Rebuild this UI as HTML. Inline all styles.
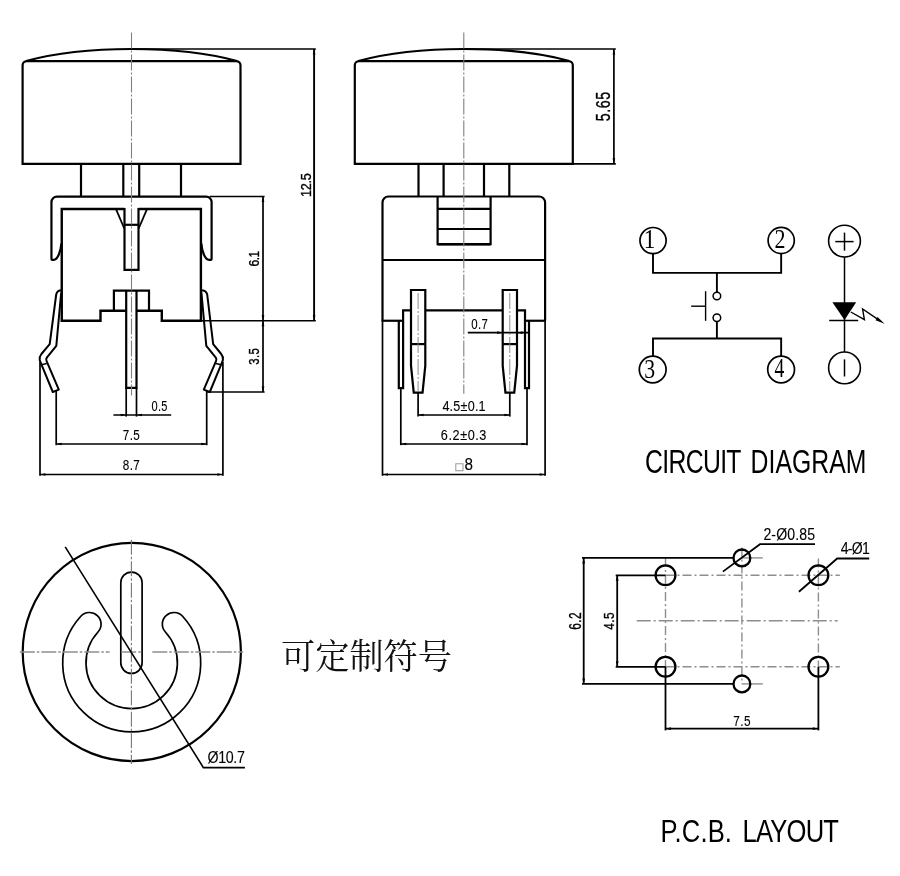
<!DOCTYPE html>
<html lang="zh">
<head>
<meta charset="utf-8">
<title>Tact switch drawing</title>
<style>
html,body{margin:0;padding:0;background:#fff;}
body{width:900px;height:876px;overflow:hidden;font-family:"Liberation Sans","Noto Sans CJK SC",sans-serif;}
svg{display:block;will-change:transform;}
</style>
</head>
<body>
<svg width="900" height="876" viewBox="0 0 900 876" stroke-linecap="butt" stroke-linejoin="miter">
<rect x="0" y="0" width="900" height="876" fill="#fff"/>
<g id="front-view">
<path d="M22.6,163.8 L22.6,65.3 A4.2 4.2 0 0 1 26.8,61.1 L236.3,61.1 A4.2 4.2 0 0 1 240.5,65.3 L240.5,163.8 Z" stroke="#000" stroke-width="2.2" fill="none" />
<path d="M26.05,61.0 A150 41.5 0 0 1 237.05,61.0" stroke="#000" stroke-width="2.2" fill="none" />
<line x1="81.00" y1="163.80" x2="81.00" y2="196.50" stroke="#000" stroke-width="2.2" />
<line x1="123.30" y1="163.80" x2="123.30" y2="196.50" stroke="#000" stroke-width="2.2" />
<line x1="139.20" y1="163.80" x2="139.20" y2="196.50" stroke="#000" stroke-width="2.2" />
<line x1="181.00" y1="163.80" x2="181.00" y2="196.50" stroke="#000" stroke-width="2.2" />
<path d="M61.35,243.5 C60.85,250.5 58,259.80 53.6,259.80 L52.25,259.80 Q51.45,259.80 51.45,259.0 L51.45,202.1 A5.5 5.5 0 0 1 56.95,196.6 L206.1,196.6 A5.5 5.5 0 0 1 211.6,202.1 L211.6,259.0 Q211.6,259.80 210.80,259.80 L209.1,259.80 C204.7,259.80 201.85,250.5 201.35,243.5" stroke="#000" stroke-width="2.2" fill="none" />
<path d="M124.5,208.95 L61.75,208.95 L61.75,320.75 L100.5,320.75 L100.5,310.8 L126.2,310.8" stroke="#000" stroke-width="2.4" fill="none" />
<path d="M138.5,208.95 L200.9,208.95 L200.9,320.75 L161.8,320.75 L161.8,310.8 L136.5,310.8" stroke="#000" stroke-width="2.4" fill="none" />
<path d="M124.5,207.95 L124.5,269.9 L138.5,269.9 L138.5,207.95" stroke="#000" stroke-width="2.2" fill="none" />
<line x1="124.50" y1="224.80" x2="138.50" y2="224.80" stroke="#000" stroke-width="2.2" />
<line x1="115.90" y1="208.95" x2="124.30" y2="228.50" stroke="#000" stroke-width="1.8" />
<line x1="147.10" y1="208.95" x2="138.70" y2="228.50" stroke="#000" stroke-width="1.8" />
<path d="M113.9,310.8 L113.9,290.6 L149,290.6 L149,310.8" stroke="#000" stroke-width="2.2" fill="none" />
<path d="M126.2,290.6 L126.2,387.9 L136.5,387.9 L136.5,290.6" stroke="#000" stroke-width="2.2" fill="none" />
<path d="M61.90,290.20 Q57.00,290.20 56.20,294.50 L49.70,344.20 L41.40,354.00 Q39.00,357.00 39.70,360.20 L41.60,364.80 L52.80,392.00 L58.80,389.60 L46.60,361.20 Q45.60,359.40 46.80,357.60 L56.30,345.80 L61.20,292.50" stroke="#000" stroke-width="2.0" fill="none" stroke-linejoin="round"/>
<line x1="41.60" y1="364.80" x2="46.60" y2="363.40" stroke="#000" stroke-width="1.6" />
<path d="M200.70,290.20 Q206.40,290.20 207.20,294.50 L213.17,344.20 L221.20,354.00 Q223.60,357.00 222.90,360.20 L221.00,364.80 L209.80,392.00 L203.80,389.60 L216.00,361.20 Q217.00,359.40 215.80,357.60 L206.30,345.80 L201.40,292.50" stroke="#000" stroke-width="2.0" fill="none" stroke-linejoin="round"/>
<line x1="221.00" y1="364.80" x2="216.00" y2="363.40" stroke="#000" stroke-width="1.6" />
</g>
<g id="front-dims">
<line x1="131.50" y1="49.00" x2="315.80" y2="49.00" stroke="#000" stroke-width="1.7" />
<line x1="314.10" y1="49.00" x2="314.10" y2="320.75" stroke="#000" stroke-width="1.9" />
<polygon points="314.10,49.00 315.45,54.50 312.75,54.50" fill="#000"/>
<polygon points="314.10,320.75 312.75,315.25 315.45,315.25" fill="#000"/>
<line x1="200.90" y1="320.75" x2="315.80" y2="320.75" stroke="#000" stroke-width="1.7" />
<line x1="209.60" y1="196.50" x2="264.60" y2="196.50" stroke="#000" stroke-width="1.7" />
<line x1="263.00" y1="196.50" x2="263.00" y2="392.00" stroke="#000" stroke-width="1.7" />
<polygon points="263.00,196.50 264.35,202.00 261.65,202.00" fill="#000"/>
<polygon points="263.00,320.75 261.65,315.25 264.35,315.25" fill="#000"/>
<polygon points="263.00,320.75 264.35,326.25 261.65,326.25" fill="#000"/>
<polygon points="263.00,392.00 261.65,386.50 264.35,386.50" fill="#000"/>
<line x1="206.00" y1="392.00" x2="264.60" y2="392.00" stroke="#000" stroke-width="1.7" />
<line x1="126.20" y1="387.90" x2="126.20" y2="416.60" stroke="#000" stroke-width="1.7" />
<line x1="136.50" y1="387.90" x2="136.50" y2="416.60" stroke="#000" stroke-width="1.7" />
<line x1="113.40" y1="415.00" x2="171.20" y2="415.00" stroke="#000" stroke-width="1.7" />
<polygon points="126.20,415.00 120.70,416.35 120.70,413.65" fill="#000"/>
<polygon points="136.50,415.00 142.00,413.65 142.00,416.35" fill="#000"/>
<line x1="56.20" y1="391.00" x2="56.20" y2="445.20" stroke="#000" stroke-width="1.7" />
<line x1="206.70" y1="391.00" x2="206.70" y2="445.20" stroke="#000" stroke-width="1.7" />
<line x1="56.20" y1="444.00" x2="206.70" y2="444.00" stroke="#000" stroke-width="1.7" />
<polygon points="56.20,444.00 61.70,442.65 61.70,445.35" fill="#000"/>
<polygon points="206.70,444.00 201.20,445.35 201.20,442.65" fill="#000"/>
<line x1="40.00" y1="362.00" x2="40.00" y2="475.80" stroke="#000" stroke-width="1.7" />
<line x1="222.90" y1="362.00" x2="222.90" y2="475.80" stroke="#000" stroke-width="1.7" />
<line x1="40.00" y1="474.50" x2="222.90" y2="474.50" stroke="#000" stroke-width="1.7" />
<polygon points="40.00,474.50 45.50,473.15 45.50,475.85" fill="#000"/>
<polygon points="222.90,474.50 217.40,475.85 217.40,473.15" fill="#000"/>
<line x1="131.50" y1="32.50" x2="131.50" y2="395.60" stroke="#808080" stroke-width="1.1" stroke-dasharray="16 2 2 2"/>
</g>
<g id="front-text">
<text x="0" y="0" font-family='"Liberation Sans", sans-serif' font-size="15.4" text-anchor="middle" fill="#000" stroke="#000" stroke-width="0.35" textLength="29.23" lengthAdjust="spacing" transform="translate(310.60 185.10) rotate(-90) scale(0.821 1)" >12.5</text>
<text x="0" y="0" font-family='"Liberation Sans", sans-serif' font-size="15.3" text-anchor="middle" fill="#000" stroke="#000" stroke-width="0.35" textLength="20.15" lengthAdjust="spacing" transform="translate(259.40 258.70) rotate(-90) scale(0.784 1)" >6.1</text>
<text x="0" y="0" font-family='"Liberation Sans", sans-serif' font-size="15.3" text-anchor="middle" fill="#000" stroke="#000" stroke-width="0.35" textLength="22.42" lengthAdjust="spacing" transform="translate(259.40 356.40) rotate(-90) scale(0.745 1)" >3.5</text>
<text x="0" y="0" font-family='"Liberation Sans", sans-serif' font-size="13.8" text-anchor="middle" fill="#000" stroke="#000" stroke-width="0.1" textLength="20.15" lengthAdjust="spacing" transform="translate(159.45 411.20) scale(0.799 1)" >0.5</text>
<text x="0" y="0" font-family='"Liberation Sans", sans-serif' font-size="13.8" text-anchor="middle" fill="#000" stroke="#000" stroke-width="0.1" textLength="20.09" lengthAdjust="spacing" transform="translate(131.35 440.30) scale(0.846 1)" >7.5</text>
<text x="0" y="0" font-family='"Liberation Sans", sans-serif' font-size="13.8" text-anchor="middle" fill="#000" stroke="#000" stroke-width="0.1" textLength="20.09" lengthAdjust="spacing" transform="translate(131.35 470.40) scale(0.846 1)" >8.7</text>
</g>
<g id="side-view">
<path d="M354.8,163.8 L354.8,65.3 A4.2 4.2 0 0 1 359.0,61.1 L568.60,61.1 A4.2 4.2 0 0 1 572.8,65.3 L572.8,163.8 Z" stroke="#000" stroke-width="2.2" fill="none" />
<path d="M358.30,61.0 A150 41.5 0 0 1 569.3,61.0" stroke="#000" stroke-width="2.2" fill="none" />
<line x1="418.50" y1="163.80" x2="418.50" y2="196.50" stroke="#000" stroke-width="2.2" />
<line x1="443.60" y1="163.80" x2="443.60" y2="196.50" stroke="#000" stroke-width="2.2" />
<line x1="484.00" y1="163.80" x2="484.00" y2="196.50" stroke="#000" stroke-width="2.2" />
<line x1="509.30" y1="163.80" x2="509.30" y2="196.50" stroke="#000" stroke-width="2.2" />
<path d="M382.5,320.75 L382.5,202.5 A6 6 0 0 1 388.5,196.5 L539.1,196.5 A6 6 0 0 1 545.1,202.5 L545.1,320.75" stroke="#000" stroke-width="2.2" fill="none" />
<line x1="382.50" y1="260.00" x2="545.10" y2="260.00" stroke="#000" stroke-width="2.2" />
<path d="M437.6,196.5 L437.6,244.2 L490.6,244.2 L490.6,196.5" stroke="#000" stroke-width="2.2" fill="none" />
<line x1="437.60" y1="244.20" x2="490.60" y2="244.20" stroke="#000" stroke-width="2.4" />
<line x1="437.60" y1="208.80" x2="490.60" y2="208.80" stroke="#000" stroke-width="2.2" />
<line x1="437.60" y1="229.00" x2="490.60" y2="229.00" stroke="#000" stroke-width="2.2" />
<path d="M381.6,320.75 L403.1,320.75" stroke="#000" stroke-width="2.2" fill="none" />
<path d="M398.8,320.75 L398.8,388.2 L403.1,388.2 L403.1,310.4 L411,310.4" stroke="#000" stroke-width="2.2" fill="none" />
<path d="M425.3,310.4 L502.7,310.4" stroke="#000" stroke-width="2.2" fill="none" />
<path d="M546.0,320.75 L525,320.75" stroke="#000" stroke-width="2.2" fill="none" />
<path d="M529,320.75 L529,388.2 L525,388.2 L525,310.4 L517,310.4" stroke="#000" stroke-width="2.2" fill="none" />
<path d="M411,365.6 L411,290 L425.3,290 L425.3,365.6 L422.55,392.6 L413.75,392.6 Z" stroke="#000" stroke-width="2.2" fill="none" />
<line x1="411.00" y1="344.10" x2="425.30" y2="344.10" stroke="#000" stroke-width="2.2" />
<path d="M502.7,365.6 L502.7,290 L517,290 L517,365.6 L514.25,392.6 L505.45,392.6 Z" stroke="#000" stroke-width="2.2" fill="none" />
<line x1="502.70" y1="344.10" x2="517.00" y2="344.10" stroke="#000" stroke-width="2.2" />
</g>
<g id="side-dims">
<line x1="463.80" y1="49.00" x2="615.80" y2="49.00" stroke="#000" stroke-width="1.7" />
<line x1="572.80" y1="163.80" x2="615.80" y2="163.80" stroke="#000" stroke-width="1.7" />
<line x1="613.90" y1="49.00" x2="613.90" y2="163.80" stroke="#000" stroke-width="1.7" />
<polygon points="613.90,49.00 615.25,54.50 612.55,54.50" fill="#000"/>
<polygon points="613.90,163.80 612.55,158.30 615.25,158.30" fill="#000"/>
<line x1="382.50" y1="320.75" x2="382.50" y2="475.80" stroke="#000" stroke-width="1.7" />
<line x1="545.10" y1="320.75" x2="545.10" y2="475.80" stroke="#000" stroke-width="1.7" />
<line x1="382.50" y1="474.50" x2="545.10" y2="474.50" stroke="#000" stroke-width="1.7" />
<polygon points="382.50,474.50 388.00,473.15 388.00,475.85" fill="#000"/>
<polygon points="545.10,474.50 539.60,475.85 539.60,473.15" fill="#000"/>
<line x1="400.80" y1="388.20" x2="400.80" y2="445.20" stroke="#000" stroke-width="1.7" />
<line x1="527.00" y1="388.20" x2="527.00" y2="445.20" stroke="#000" stroke-width="1.7" />
<line x1="400.80" y1="444.00" x2="527.00" y2="444.00" stroke="#000" stroke-width="1.7" />
<polygon points="400.80,444.00 406.30,442.65 406.30,445.35" fill="#000"/>
<polygon points="527.00,444.00 521.50,445.35 521.50,442.65" fill="#000"/>
<line x1="418.10" y1="392.60" x2="418.10" y2="416.60" stroke="#000" stroke-width="1.7" />
<line x1="509.80" y1="392.60" x2="509.80" y2="416.60" stroke="#000" stroke-width="1.7" />
<line x1="418.10" y1="415.00" x2="509.80" y2="415.00" stroke="#000" stroke-width="1.7" />
<polygon points="418.10,415.00 423.60,413.65 423.60,416.35" fill="#000"/>
<polygon points="509.80,415.00 504.30,416.35 504.30,413.65" fill="#000"/>
<line x1="467.80" y1="332.70" x2="528.50" y2="332.70" stroke="#000" stroke-width="1.7" />
<polygon points="502.70,332.70 497.20,334.05 497.20,331.35" fill="#000"/>
<polygon points="517.00,332.70 522.50,331.35 522.50,334.05" fill="#000"/>
<line x1="463.80" y1="32.50" x2="463.80" y2="393.70" stroke="#808080" stroke-width="1.1" stroke-dasharray="16 2 2 2"/>
<line x1="418.10" y1="293.00" x2="418.10" y2="392.00" stroke="#808080" stroke-width="0.9" stroke-dasharray="16 2 2 2"/>
<line x1="509.80" y1="293.00" x2="509.80" y2="392.00" stroke="#808080" stroke-width="0.9" stroke-dasharray="16 2 2 2"/>
</g>
<g id="side-text">
<text x="0" y="0" font-family='"Liberation Sans", sans-serif' font-size="19.5" text-anchor="middle" fill="#000" stroke="#000" stroke-width="0.35" textLength="40.03" lengthAdjust="spacing" transform="translate(610.30 106.50) rotate(-90) scale(0.732 1)" >5.65</text>
<text x="0" y="0" font-family='"Liberation Sans", sans-serif' font-size="13.9" text-anchor="middle" fill="#000" stroke="#000" stroke-width="0.1" textLength="20.27" lengthAdjust="spacing" transform="translate(479.50 329.40) scale(0.824 1)" >0.7</text>
<text x="0" y="0" font-family='"Liberation Sans", sans-serif' font-size="14.0" text-anchor="middle" fill="#000" stroke="#000" stroke-width="0.1" textLength="48.00" lengthAdjust="spacing" transform="translate(464.00 411.30) scale(0.9 1)" >4.5±0.1</text>
<text x="0" y="0" font-family='"Liberation Sans", sans-serif' font-size="14.1" text-anchor="middle" fill="#000" stroke="#000" stroke-width="0.1" textLength="50.78" lengthAdjust="spacing" transform="translate(463.60 440.40) scale(0.9 1)" >6.2±0.3</text>
<text y="469.8" font-size="16.6" fill="#000" stroke="#000" stroke-width="0.1" font-family='"Liberation Sans", "DejaVu Sans", sans-serif'><tspan x="454.5" y="470.3" font-size="10.2" fill="#a2a2a2" stroke="#a2a2a2" stroke-width="0.35" font-family='"DejaVu Sans", "Liberation Sans", sans-serif'>□</tspan><tspan x="464.6" y="469.8" textLength="8.5" lengthAdjust="spacingAndGlyphs">8</tspan></text>
</g>
<g id="circuit">
<circle cx="653.05" cy="240.60" r="13.10" stroke="#000" stroke-width="1.7" fill="none"/>
<text x="649.60" y="247.70" font-family='"Liberation Serif", serif' font-size="26.7" text-anchor="middle" fill="#000" textLength="11.60" lengthAdjust="spacingAndGlyphs" >1</text>
<circle cx="781.20" cy="240.50" r="13.10" stroke="#000" stroke-width="1.7" fill="none"/>
<text x="779.90" y="247.70" font-family='"Liberation Serif", serif' font-size="26.7" text-anchor="middle" fill="#000" textLength="11.00" lengthAdjust="spacingAndGlyphs" >2</text>
<circle cx="652.70" cy="369.50" r="13.40" stroke="#000" stroke-width="1.7" fill="none"/>
<text x="649.60" y="377.70" font-family='"Liberation Serif", serif' font-size="26.7" text-anchor="middle" fill="#000" textLength="10.90" lengthAdjust="spacingAndGlyphs" >3</text>
<circle cx="781.10" cy="369.50" r="13.40" stroke="#000" stroke-width="1.7" fill="none"/>
<text x="779.40" y="377.10" font-family='"Liberation Serif", serif' font-size="26.7" text-anchor="middle" fill="#000" textLength="9.80" lengthAdjust="spacingAndGlyphs" >4</text>
<path d="M653,253.2 L653,272.9 L781.15,272.9 L781.15,253.2" stroke="#000" stroke-width="1.9" fill="none" />
<path d="M653,356.6 L653,338.5 L781.15,338.5 L781.15,356.6" stroke="#000" stroke-width="1.9" fill="none" />
<line x1="716.90" y1="272.90" x2="716.90" y2="292.20" stroke="#000" stroke-width="1.9" />
<line x1="716.90" y1="321.50" x2="716.90" y2="338.40" stroke="#000" stroke-width="1.9" />
<circle cx="716.90" cy="296.00" r="3.80" stroke="#000" stroke-width="1.5" fill="none"/>
<circle cx="716.90" cy="317.70" r="3.80" stroke="#000" stroke-width="1.5" fill="none"/>
<line x1="705.60" y1="291.20" x2="705.60" y2="320.80" stroke="#000" stroke-width="1.4" />
<line x1="691.20" y1="306.20" x2="705.60" y2="306.20" stroke="#000" stroke-width="1.4" />
<circle cx="844.50" cy="241.10" r="15.90" stroke="#000" stroke-width="1.6" fill="none"/>
<circle cx="844.50" cy="367.90" r="15.90" stroke="#000" stroke-width="1.6" fill="none"/>
<line x1="835.30" y1="241.60" x2="853.60" y2="241.60" stroke="#000" stroke-width="1.5" />
<line x1="844.50" y1="232.60" x2="844.50" y2="250.70" stroke="#000" stroke-width="1.5" />
<line x1="844.50" y1="359.40" x2="844.50" y2="376.50" stroke="#000" stroke-width="1.5" />
<line x1="844.50" y1="257.00" x2="844.50" y2="352.00" stroke="#000" stroke-width="1.5" />
<polygon points="832.4,302.2 856.2,302.2 844.5,320" fill="#000"/>
<line x1="829.20" y1="320.50" x2="858.20" y2="320.50" stroke="#000" stroke-width="1.5" />
<path d="M850.8,312.0 L864.4,319.6 L862.6,309.0 L879,320.2" stroke="#000" stroke-width="1.4" fill="none" />
<polygon points="884.60,323.70 875.54,320.28 877.55,317.05" fill="#000"/>
</g>
<text y="0" font-family='"Liberation Sans", sans-serif' font-size="32.6" fill="#000" transform="translate(645.00 473.30) scale(0.76 1)" xml:space="preserve"><tspan x="0.00" textLength="126.97" lengthAdjust="spacing">CIRCUIT</tspan> <tspan x="138.82" textLength="152.63" lengthAdjust="spacing">DIAGRAM</tspan></text>
<g id="symbol">
<circle cx="131.80" cy="651.95" r="109.10" stroke="#000" stroke-width="2.2" fill="none"/>
<rect x="120.8" y="572.1" width="21.3" height="101.3" rx="10.6" ry="10.6" fill="none" stroke="#000" stroke-width="1.7"/>
<path d="M80.83,616.28 A69.0 69.0 0 1 0 182.57,616.28 A11.65 11.65 0 0 0 165.39,632.03 A45.7 45.7 0 1 1 98.01,632.03 A11.65 11.65 0 0 0 80.83,616.28 Z" stroke="#000" stroke-width="1.7" fill="none" />
<line x1="19.80" y1="652.00" x2="109.60" y2="652.00" stroke="#8e8e8e" stroke-width="1.5" stroke-dasharray="15 2 2.5 2"/>
<line x1="121.20" y1="652.00" x2="141.40" y2="652.00" stroke="#8e8e8e" stroke-width="1.5" stroke-dasharray="15 2 2.5 2"/>
<line x1="152.30" y1="652.00" x2="243.20" y2="652.00" stroke="#8e8e8e" stroke-width="1.5" stroke-dasharray="15 2 2.5 2"/>
<line x1="131.40" y1="539.80" x2="131.40" y2="764.10" stroke="#777" stroke-width="1.1" stroke-dasharray="15 2 2.5 2"/>
<path d="M65.2,546.8 L203.4,767.6 L244.9,767.6" stroke="#000" stroke-width="1.6" fill="none" />
<text x="0" y="0" font-family='"Liberation Sans", sans-serif' font-size="15.8" text-anchor="middle" fill="#000" stroke="#000" stroke-width="0.1" textLength="41.67" lengthAdjust="spacing" transform="translate(226.15 762.50) scale(0.9 1)" >Ø10.7</text>
</g>
<text x="366.50" y="669.20" font-family='"Liberation Serif", "Noto Serif CJK SC", serif' font-size="35.5" text-anchor="middle" fill="#111" textLength="171.00" lengthAdjust="spacingAndGlyphs" >可定制符号</text>
<g id="pcb">
<line x1="665.50" y1="557.90" x2="665.50" y2="666.80" stroke="#8e8e8e" stroke-width="1.4" stroke-dasharray="9 3 2 3"/>
<line x1="741.90" y1="547.50" x2="741.90" y2="683.90" stroke="#8e8e8e" stroke-width="1.4" stroke-dasharray="9 3 2 3"/>
<line x1="818.40" y1="558.40" x2="818.40" y2="666.80" stroke="#8e8e8e" stroke-width="1.4" stroke-dasharray="9 3 2 3"/>
<line x1="665.50" y1="575.30" x2="839.80" y2="575.30" stroke="#8e8e8e" stroke-width="1.4" stroke-dasharray="9 3 2 3"/>
<line x1="665.50" y1="666.80" x2="839.80" y2="666.80" stroke="#8e8e8e" stroke-width="1.4" stroke-dasharray="9 3 2 3"/>
<line x1="636.70" y1="620.80" x2="837.70" y2="620.80" stroke="#8e8e8e" stroke-width="1.4" stroke-dasharray="14 3 2 3"/>
<line x1="741.90" y1="557.90" x2="762.80" y2="557.90" stroke="#8e8e8e" stroke-width="1.4" />
<line x1="741.90" y1="683.90" x2="762.80" y2="683.90" stroke="#8e8e8e" stroke-width="1.4" />
<circle cx="665.50" cy="575.30" r="9.90" stroke="#000" stroke-width="2.3" fill="none"/>
<circle cx="665.50" cy="666.80" r="9.90" stroke="#000" stroke-width="2.3" fill="none"/>
<circle cx="818.40" cy="575.30" r="9.90" stroke="#000" stroke-width="2.3" fill="none"/>
<circle cx="818.40" cy="666.80" r="9.90" stroke="#000" stroke-width="2.3" fill="none"/>
<circle cx="741.90" cy="557.90" r="8.40" stroke="#000" stroke-width="2.3" fill="none"/>
<circle cx="741.90" cy="683.90" r="8.40" stroke="#000" stroke-width="2.3" fill="none"/>
<line x1="582.00" y1="557.90" x2="733.50" y2="557.90" stroke="#000" stroke-width="1.8" />
<line x1="582.00" y1="683.90" x2="733.50" y2="683.90" stroke="#000" stroke-width="1.8" />
<line x1="583.70" y1="557.90" x2="583.70" y2="683.90" stroke="#000" stroke-width="1.8" />
<polygon points="583.70,557.90 585.05,563.40 582.35,563.40" fill="#000"/>
<polygon points="583.70,683.90 582.35,678.40 585.05,678.40" fill="#000"/>
<line x1="615.70" y1="575.30" x2="665.50" y2="575.30" stroke="#000" stroke-width="1.8" />
<line x1="615.70" y1="666.80" x2="665.50" y2="666.80" stroke="#000" stroke-width="1.8" />
<line x1="617.20" y1="575.30" x2="617.20" y2="666.80" stroke="#000" stroke-width="1.8" />
<polygon points="617.20,575.30 618.55,580.80 615.85,580.80" fill="#000"/>
<polygon points="617.20,666.80 615.85,661.30 618.55,661.30" fill="#000"/>
<line x1="665.50" y1="666.80" x2="665.50" y2="730.40" stroke="#000" stroke-width="1.8" />
<line x1="818.40" y1="666.80" x2="818.40" y2="730.40" stroke="#000" stroke-width="1.8" />
<line x1="665.50" y1="728.70" x2="818.40" y2="728.70" stroke="#000" stroke-width="1.8" />
<polygon points="665.50,728.70 671.00,727.35 671.00,730.05" fill="#000"/>
<polygon points="818.40,728.70 812.90,730.05 812.90,727.35" fill="#000"/>
<path d="M722.9,571.6 L760,544.2 L815,544.2" stroke="#000" stroke-width="1.8" fill="none" />
<path d="M798.9,591.8 L837.2,558.5 L869.2,558.5" stroke="#000" stroke-width="1.8" fill="none" />
<text x="0" y="0" font-family='"Liberation Sans", sans-serif' font-size="16.2" text-anchor="middle" fill="#000" stroke="#000" stroke-width="0.1" textLength="59.24" lengthAdjust="spacing" transform="translate(789.20 539.60) scale(0.871 1)" >2-Ø0.85</text>
<text x="0" y="0" font-family='"Liberation Sans", sans-serif' font-size="16.2" text-anchor="middle" fill="#000" stroke="#000" stroke-width="0.1" textLength="33.37" lengthAdjust="spacing" transform="translate(855.20 554.40) scale(0.872 1)" >4-Ø1</text>
<text x="0" y="0" font-family='"Liberation Sans", sans-serif' font-size="15.8" text-anchor="middle" fill="#000" stroke="#000" stroke-width="0.35" textLength="23.14" lengthAdjust="spacing" transform="translate(581.30 621.10) rotate(-90) scale(0.752 1)" >6.2</text>
<text x="0" y="0" font-family='"Liberation Sans", sans-serif' font-size="15.0" text-anchor="middle" fill="#000" stroke="#000" stroke-width="0.35" textLength="21.91" lengthAdjust="spacing" transform="translate(614.10 621.10) rotate(-90) scale(0.785 1)" >4.5</text>
<text x="0" y="0" font-family='"Liberation Sans", sans-serif' font-size="15.2" text-anchor="middle" fill="#000" stroke="#000" stroke-width="0.1" textLength="22.21" lengthAdjust="spacing" transform="translate(742.00 725.60) scale(0.779 1)" >7.5</text>
</g>
<text y="0" font-family='"Liberation Sans", sans-serif' font-size="32.0" fill="#000" transform="translate(660.60 842.30) scale(0.8 1)" xml:space="preserve"><tspan x="0.00" textLength="89.25" lengthAdjust="spacing">P.C.B.</tspan> <tspan x="102.50" textLength="120.50" lengthAdjust="spacing">LAYOUT</tspan></text>
</svg>
</body>
</html>
